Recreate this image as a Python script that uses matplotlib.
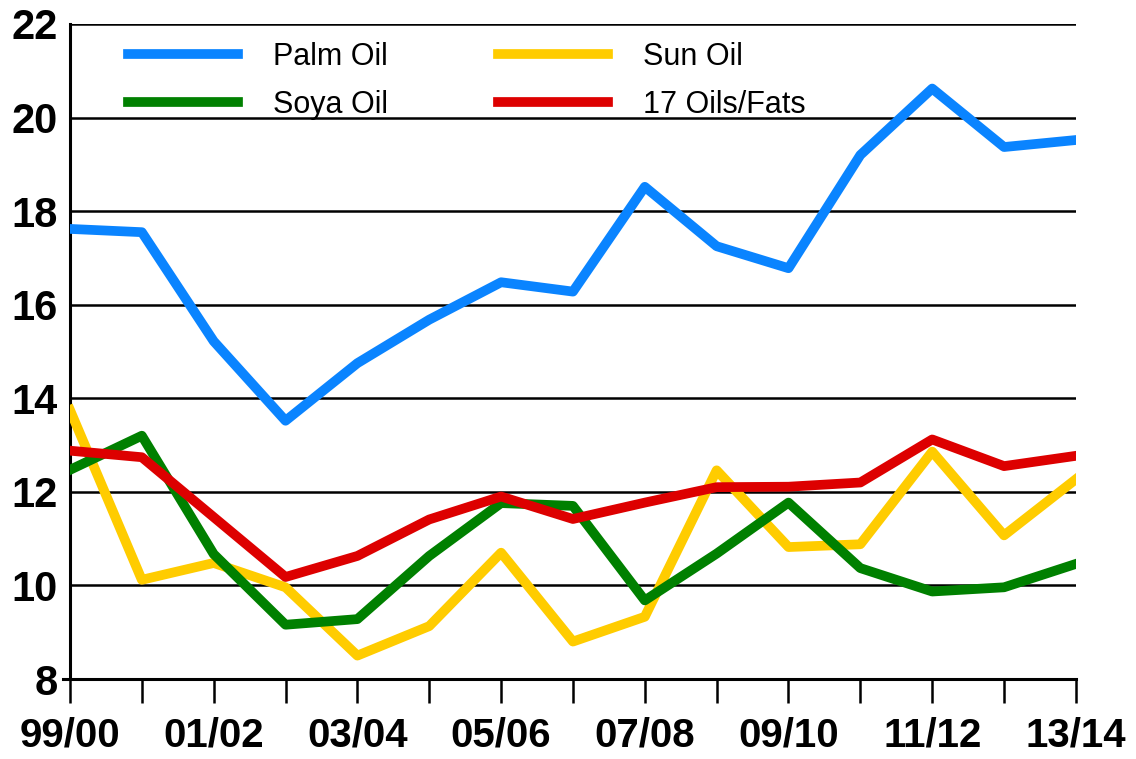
import numpy as np
import matplotlib
matplotlib.use("Agg")
import matplotlib.pyplot as plt

plt.rcParams['font.family'] = ['Liberation Sans', 'DejaVu Sans']

# Marketing years 99/00 .. 13/14
seasons = ['99/00', '00/01', '01/02', '02/03', '03/04', '04/05', '05/06', '06/07',
           '07/08', '08/09', '09/10', '10/11', '11/12', '12/13', '13/14']

palm_oil = [17.62, 17.55, 15.22, 13.52, 14.75, 15.68, 16.48, 16.28,
            18.52, 17.25, 16.78, 19.2, 20.62, 19.37, 19.52]
soya_oil = [12.47, 13.2, 10.67, 9.16, 9.28, 10.63, 11.76, 11.7,
            9.68, 10.68, 11.77, 10.37, 9.87, 9.96, 10.46]
sun_oil = [13.75, 10.12, 10.48, 9.96, 8.5, 9.13, 10.7, 8.8,
           9.33, 12.46, 10.82, 10.88, 12.86, 11.07, 12.27]
oils_fats = [12.88, 12.74, 11.46, 10.18, 10.63, 11.41, 11.9, 11.42,
             11.77, 12.1, 12.11, 12.2, 13.12, 12.55, 12.77]

x = np.arange(len(seasons))

fig = plt.figure(figsize=(11.36, 7.59), dpi=100)
ax = fig.add_axes([0.0616, 0.1054, 0.8855, 0.863])

lw = 7
l_palm, = ax.plot(x, palm_oil, color='#0a84ff', lw=lw, label='Palm Oil', zorder=3)
l_sun, = ax.plot(x, sun_oil, color='#ffcc00', lw=lw, label='Sun Oil', zorder=3)
l_soya, = ax.plot(x, soya_oil, color='#008000', lw=lw, label='Soya Oil', zorder=4)
l_fats, = ax.plot(x, oils_fats, color='#dd0000', lw=lw, label='17 Oils/Fats', zorder=5)

ax.set_xlim(0, 14)
ax.set_ylim(8, 22)
ax.set_yticks(np.arange(8, 23, 2))
ax.yaxis.grid(True, color='black', lw=1.8)
ax.set_axisbelow(True)

ax.set_xticks(x)
ax.set_xticklabels([s if i % 2 == 0 else '' for i, s in enumerate(seasons)])
ax.tick_params(axis='x', direction='out', length=17, width=1.8, pad=10,
               labelsize=29)
ax.tick_params(axis='y', length=0, pad=9, labelsize=30)
for lab in ax.get_xticklabels() + ax.get_yticklabels():
    lab.set_fontweight('bold')

for side in ['top', 'right']:
    ax.spines[side].set_visible(False)
ax.spines['left'].set_linewidth(2.2)
ax.spines['bottom'].set_linewidth(2.2)
# the baseline pokes a little past the y axis, as in the original
ax.spines['bottom'].set_bounds(-0.1, 14)

ax.legend(handles=[l_palm, l_soya, l_sun, l_fats], ncol=2, frameon=False,
          fontsize=22, handlelength=3.6, handletextpad=1.15, columnspacing=3.6,
          labelspacing=0.6, loc='upper left', bbox_to_anchor=(0.03, 1.015))

fig.savefig('out.png', dpi=100)
